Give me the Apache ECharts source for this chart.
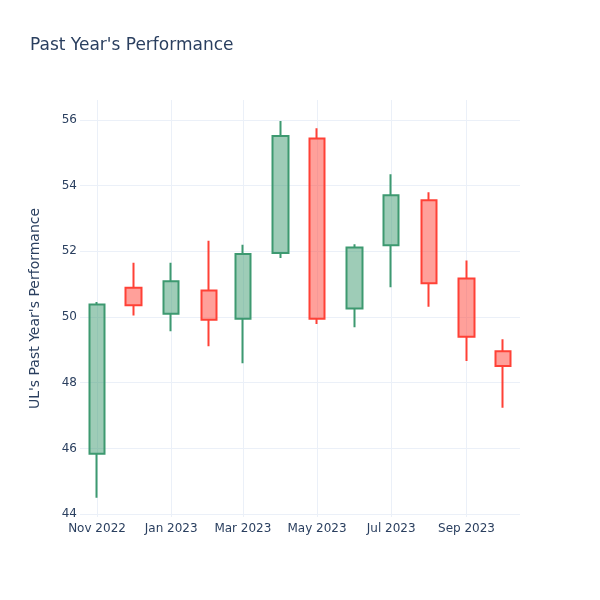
<!DOCTYPE html>
<html>
<head>
<meta charset="utf-8">
<script src="https://cdn.jsdelivr.net/npm/echarts@6/dist/echarts.min.js"></script>
<style>html,body{margin:0;padding:0;background:#fff}#c{width:600px;height:600px}</style>
</head>
<body>
<div id="c"></div>
<script>
const months = ['2022-11-01','2022-12-01','2023-01-01','2023-02-01','2023-03-01','2023-04-01','2023-05-01','2023-06-01','2023-07-01','2023-08-01','2023-09-01','2023-10-01'];
const openVals  = [45.84, 50.89, 50.10, 50.81, 49.95, 51.95, 55.44, 50.26, 52.19, 53.56, 51.17, 48.96];
const closeVals = [50.38, 50.36, 51.09, 49.92, 51.92, 55.51, 49.95, 52.12, 53.71, 51.03, 49.40, 48.51];
const lowVals   = [44.50, 50.05, 49.57, 49.11, 48.59, 51.80, 49.79, 49.69, 50.91, 50.31, 48.66, 47.24];
const highVals  = [50.46, 51.65, 51.65, 52.32, 52.20, 55.97, 55.75, 52.22, 54.35, 53.80, 51.72, 49.32];
const xTickDates = ['2022-11-01','2023-01-01','2023-03-01','2023-05-01','2023-07-01','2023-09-01'];
const xTickLabels = ['Nov 2022','Jan 2023','Mar 2023','May 2023','Jul 2023','Sep 2023'];
const yTicks = [44, 46, 48, 50, 52, 54, 56];

const DAY = 86400000;
const toMs = d => Date.UTC(+d.slice(0, 4), +d.slice(5, 7) - 1, +d.slice(8, 10));
const xTickMs = xTickDates.map(toMs);
const labelMap = {};
xTickMs.forEach((t, i) => { labelMap[t] = xTickLabels[i]; });
const data = months.map((m, i) => [toMs(m), openVals[i], closeVals[i], lowVals[i], highVals[i]]);
const xMin = data[0][0] - 14 * DAY;
const xMax = data[data.length - 1][0] + 14 * DAY;

const txt = '#2a3f5f';
const grid = '#ebf0f8';
const font = 'DejaVu Sans';

const chart = echarts.init(document.getElementById('c'), null, {renderer: 'canvas'});
chart.setOption({
  animation: false,
  backgroundColor: '#fff',
  title: {
    text: "Past Year's Performance",
    left: 30, top: 37, padding: 0,
    textStyle: {color: txt, fontSize: 17, fontWeight: 'normal', fontFamily: font}
  },
  grid: {left: 80, right: 80, top: 100, bottom: 83, containLabel: false},
  xAxis: {
    type: 'value',
    min: xMin, max: xMax,
    axisLine: {show: false},
    axisTick: {show: false, customValues: xTickMs},
    splitLine: {show: true, lineStyle: {color: grid, width: 1}},
    axisLabel: {
      customValues: xTickMs,
      formatter: v => labelMap[v] || '',
      color: txt, fontSize: 12, fontFamily: font, margin: 6
    }
  },
  yAxis: {
    type: 'value',
    min: 43.91, max: 56.61,
    name: "UL's Past Year's Performance",
    nameLocation: 'middle',
    nameGap: 38,
    nameTextStyle: {color: txt, fontSize: 14, fontFamily: font},
    axisLine: {show: false},
    axisTick: {show: false, customValues: yTicks},
    splitLine: {show: true, lineStyle: {color: grid, width: 1}},
    axisLabel: {customValues: yTicks, color: txt, fontSize: 12, fontFamily: font, margin: 3}
  },
  series: [{
    type: 'candlestick',
    data: data,
    encode: {x: 0, y: [1, 2, 3, 4]},
    barWidth: 16,
    itemStyle: {
      color: 'rgba(61,153,112,0.5)',
      color0: 'rgba(255,65,54,0.5)',
      borderColor: '#3D9970',
      borderColor0: '#FF4136',
      borderWidth: 2
    }
  }]
});
</script>
</body>
</html>
